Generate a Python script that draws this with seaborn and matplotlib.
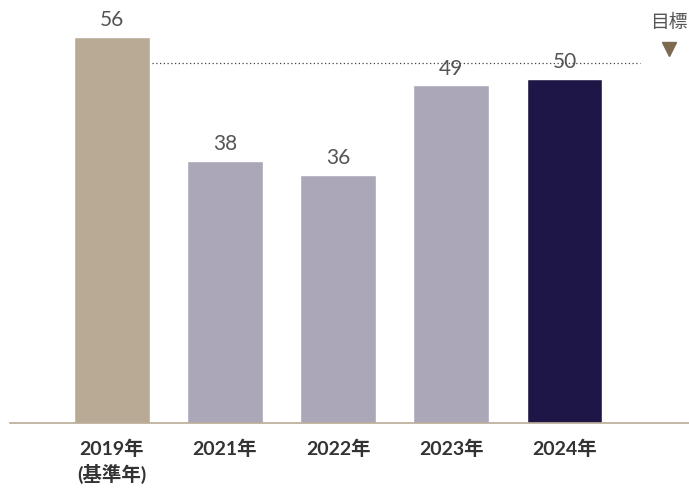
import matplotlib.pyplot as plt
import pandas as pd
import seaborn as sns

sns.set_style('white')
plt.rcParams['font.family'] = ['Noto Sans CJK JP', 'DejaVu Sans']

# chart data
years = ['2019年\n(基準年)', '2021年', '2022年', '2023年', '2024年']
values = [56, 38, 36, 49, 50]
bar_colors = ['#b9aa96', '#aba7b8', '#aba7b8', '#aba7b8', '#1e1646']
target = 52.2
target_label = '目標'

df = pd.DataFrame({'year': years, 'value': values})

fig = plt.figure(figsize=(6.89, 4.88), dpi=100)
ax = fig.add_axes([10 / 689, 65 / 488, 679 / 689, 423 / 488])

sns.barplot(data=df, x='year', y='value', hue='year', palette=bar_colors,
            width=0.67, legend=False, saturation=1, ax=ax)

# value labels
for i, v in enumerate(values):
    ax.text(i, v + 1.0, str(v), ha='center', va='bottom',
            fontsize=15, color='#555555', family=['Lato', 'DejaVu Sans'])

# target line and marker
ax.plot([0.355, 4.67], [target, target], linestyle=(0, (1, 2)),
        color='#444444', linewidth=0.9)
ax.plot([4.92], [target + 2.1], marker='v', markersize=10,
        color='#7d6a50', linestyle='none', clip_on=False)
ax.text(4.92, 56.6, target_label, ha='center', va='bottom',
        fontsize=13.5, color='#555555')

ax.set_xlim(-0.9, 5.1)
ax.set_ylim(0, 61.4)
ax.set_xlabel('')
ax.set_ylabel('')
ax.set_yticks([])
ax.tick_params(axis='x', length=0, pad=12, labelsize=14, labelcolor='#333333')
for lbl in ax.get_xticklabels():
    lbl.set_family(['Lato', 'Noto Sans CJK JP'])
    lbl.set_fontweight('bold')
    lbl.set_linespacing(1.35)
    lbl.set_verticalalignment('top')
for s in ['top', 'left', 'right']:
    ax.spines[s].set_visible(False)
ax.spines['bottom'].set_color('#b9aa96')
ax.spines['bottom'].set_linewidth(1.2)

fig.savefig('out.png', dpi=100)
